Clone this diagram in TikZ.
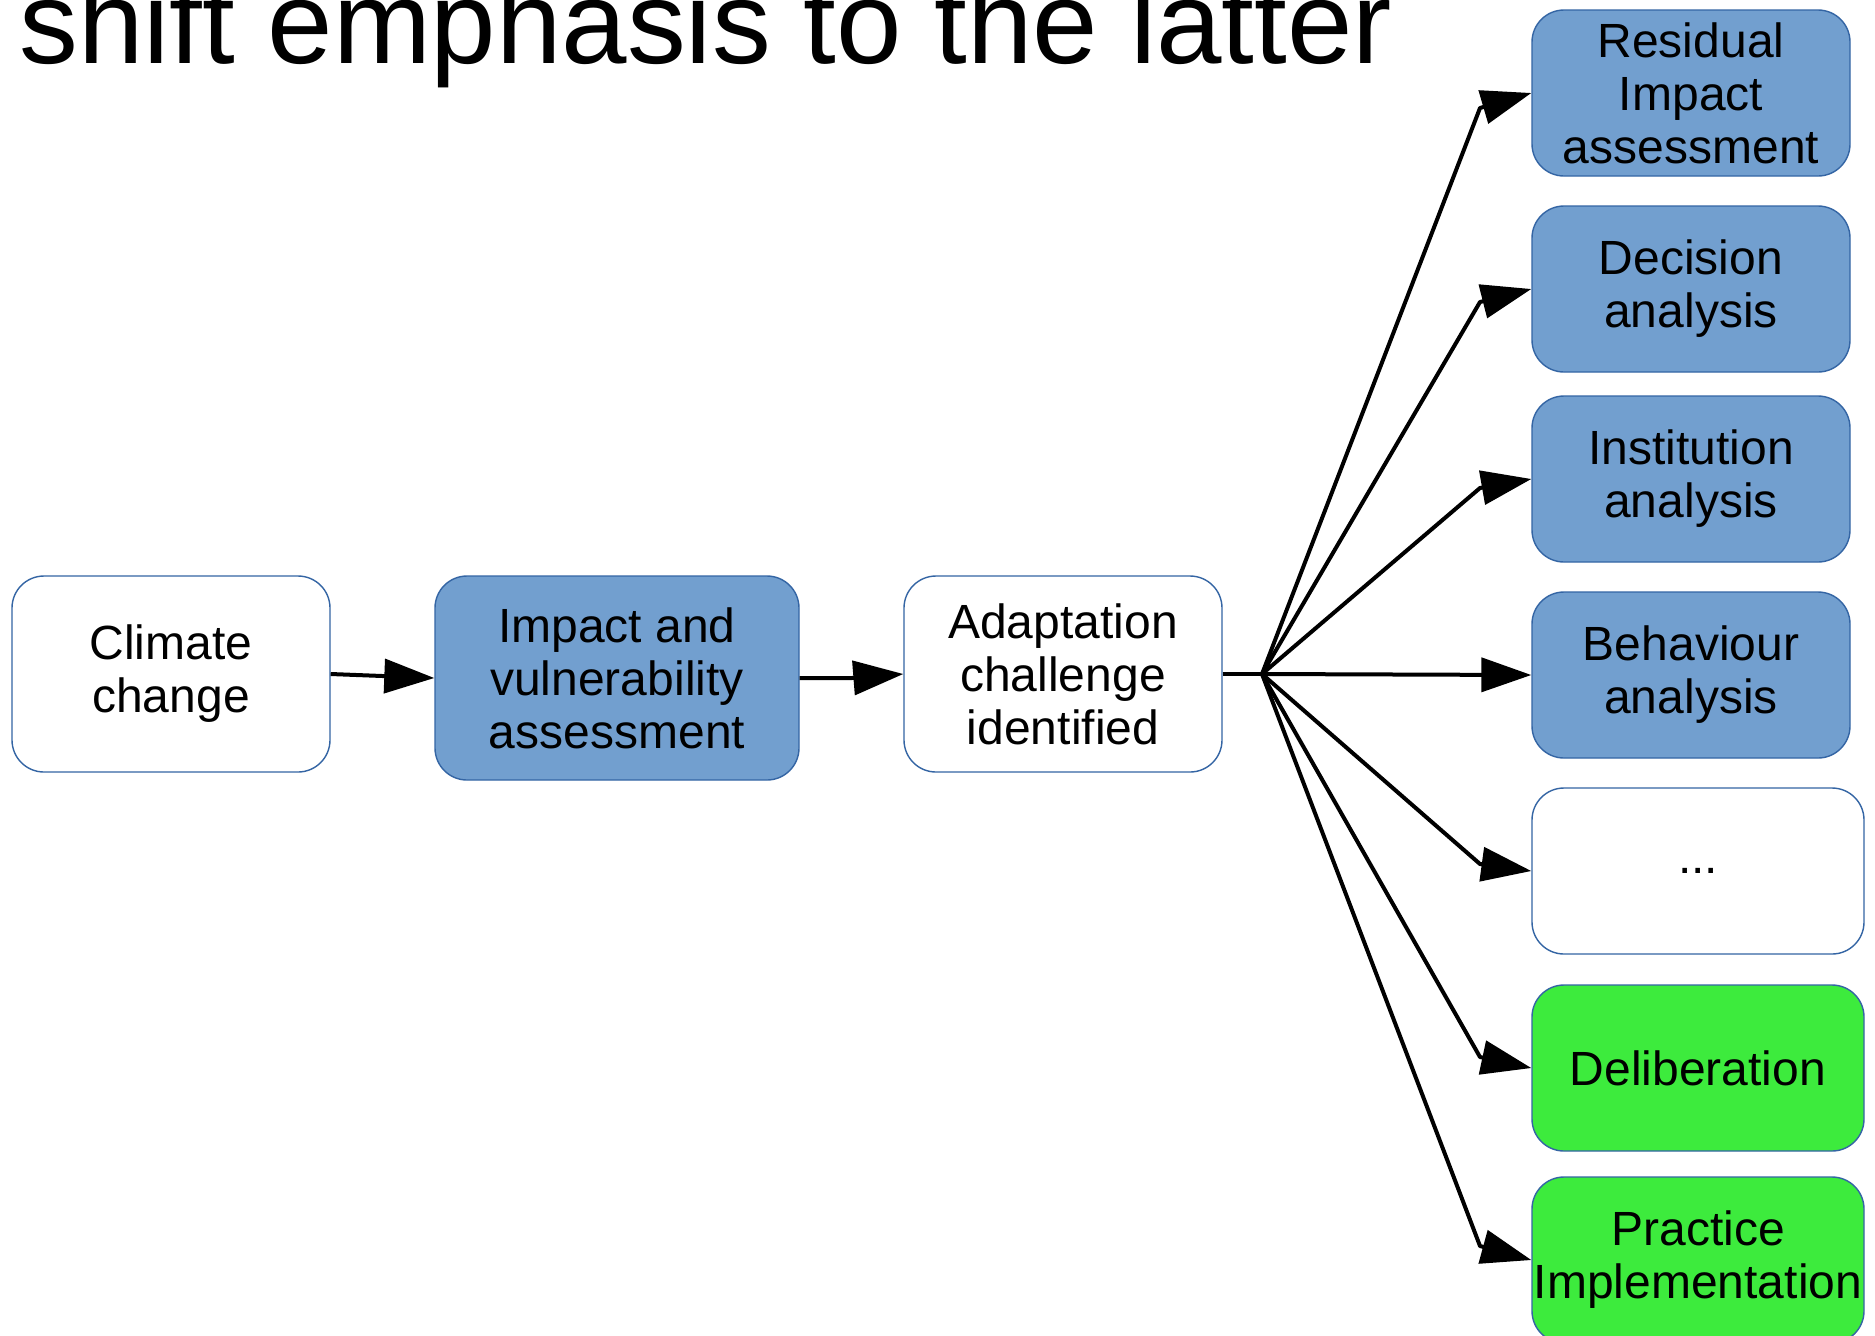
\documentclass[tikz,border=0pt]{standalone}
\usepackage{fontspec}
\setmainfont{Liberation Sans}
\usetikzlibrary{arrows.meta}
\definecolor{boxblue}{HTML}{729FCF}
\definecolor{boxline}{HTML}{3465A4}
\definecolor{boxgreen}{HTML}{3DEB3D}
\tikzset{
  card/.style={draw=boxline, line width=0.7pt, rounded corners=16pt, align=center,
    inner sep=0pt, font=\fontsize{24}{26.5}\selectfont},
  bluecard/.style={card, fill=boxblue},
  greencard/.style={card, fill=boxgreen},
  whitecard/.style={card, fill=white},
  wide/.style={minimum width=159pt, minimum height=98pt},
  rcol/.style={minimum width=159pt, minimum height=83pt},
  rcolw/.style={minimum width=166pt, minimum height=83pt},
  link/.style={line width=2pt, line join=round, -{Triangle[length=25pt,width=17pt]}},
  plain/.style={line width=2pt},
}
\begin{document}
\begin{tikzpicture}[x=0.5pt,y=-0.5pt]
\useasboundingbox (0,0) rectangle (1875,1335);
\clip (0,0) rectangle (1875,1335);
\fill[white] (0,0) rectangle (1875,1335);

\node[anchor=base west, inner sep=0pt, font=\fontsize{58.8}{64}\selectfont] (title) at (19,63) {shift emphasis to the latter};

\node[whitecard, wide] (cc) at (171,674) {Climate\\change};
\node[bluecard, minimum width=182pt, minimum height=102pt] (iv) at (617,678) {Impact and\\vulnerability\\assessment};
\node[whitecard, wide] (ac) at (1063,674) {Adaptation\\challenge\\identified};

\node[bluecard, rcol] (ri) at (1691,93) {Residual\\Impact\\assessment};
\node[bluecard, rcol] (da) at (1691,289) {Decision\\analysis};
\node[bluecard, rcol] (ia) at (1691,479) {Institution\\analysis};
\node[bluecard, rcol] (ba) at (1691,675) {Behaviour\\analysis};
\node[whitecard, rcolw] (dots) at (1698,871) {...};
\node[greencard, rcolw] (de) at (1698,1068) {Deliberation};
\node[greencard, rcolw] (pi) at (1698,1260) {Practice\\Implementation};

\coordinate (fan) at (1262,674);
\coordinate (bend) at (852,678);
\coordinate (b-ri) at (1480,108);
\coordinate (b-da) at (1480,302);
\coordinate (b-ia) at (1480,488);
\coordinate (b-dots) at (1480,864);
\coordinate (b-de) at (1480,1057);
\coordinate (b-pi) at (1480,1246);

\draw[link] (cc.east) -- (iv.west);
\draw[link] (iv.east) -- (bend) -- (ac.west);
\draw[plain] (ac.east) -- (fan);
\draw[link] (fan) -- (ba.west);
\foreach \t in {ri,da,ia,dots,de,pi}
  \draw[link] (fan) -- (b-\t) -- (\t.west);
\end{tikzpicture}
\end{document}
